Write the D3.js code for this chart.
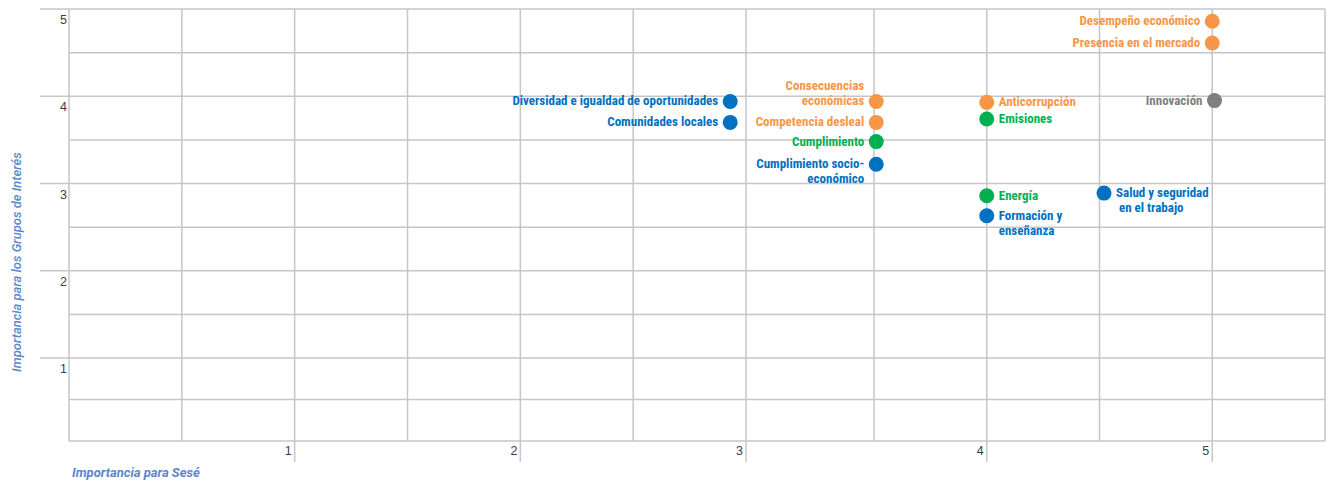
<!DOCTYPE html>
<html>
<head>
<meta charset="utf-8">
<script src="https://cdn.jsdelivr.net/npm/d3@7"></script>
<style>
  html, body { margin: 0; padding: 0; background: #fff; }
  svg { display: block; }
  .lbl { font-family: "Liberation Sans Narrow", "Roboto Condensed", "DejaVu Sans Condensed", sans-serif; font-weight: bold; font-size: 13px; white-space: pre; }
  .tick { font-family: "Liberation Sans", Arial, sans-serif; font-size: 12.5px; fill: #404040; }
  .title { font-family: Roboto, "Liberation Sans", sans-serif; font-style: italic; font-size: 13px; fill: #5b86cc; }
</style>
</head>
<body>
<svg id="chart" width="1330" height="484"></svg>
<script>
// ---- data ----
const labels = [
  "Desempeño económico",
  "Presencia en el mercado",
  "Innovación",
  "Anticorrupción",
  "Emisiones",
  "Energía",
  "Formación y\nenseñanza",
  "Salud y seguridad\n en el trabajo",
  "Consecuencias\neconómicas",
  "Competencia desleal",
  "Cumplimiento",
  "Cumplimiento socio-\neconómico",
  "Diversidad e igualdad de oportunidades",
  "Comunidades locales"
];
const xValues = [5.00, 5.00, 5.01, 4.00, 4.00, 4.00, 4.00, 4.52, 3.51, 3.51, 3.51, 3.51, 2.93, 2.93];
const yValues = [4.86, 4.61, 3.95, 3.93, 3.74, 2.86, 2.63, 2.89, 3.94, 3.70, 3.48, 3.22, 3.94, 3.70];
const groups  = ["eco", "eco", "other", "eco", "env", "env", "soc", "soc", "eco", "eco", "env", "soc", "soc", "soc"];
const labelSide = ["left", "left", "left", "right", "right", "right", "right", "right", "left", "left", "left", "left", "left", "left"];
const labelAnchorLine = ["first", "first", "first", "first", "first", "first", "first", "first", "last", "first", "first", "first", "first", "first"];
const xTicks = [1, 2, 3, 4, 5];
const yTicks = [1, 2, 3, 4, 5];
const xGrid = [0.5, 1, 1.5, 2, 2.5, 3, 3.5, 4, 4.5, 5];
const yGrid = [0.5, 1, 1.5, 2, 2.5, 3, 3.5, 4, 4.5];
const xTitle = "Importancia para Sesé";
const yTitle = "Importancia para los Grupos de Interés";

const colors = { eco: "#f79646", env: "#00b050", soc: "#0070c0", other: "#808080" };

// ---- layout ----
const svg = d3.select("#chart");
const pLeft = 69, pRight = 1325, pTop = 9, pBottom = 441;

const x = d3.scaleLinear().domain([0, 3, 3.5, 5.5]).range([pLeft, 746, 874, pRight]);
const y = d3.scaleLinear().domain([0, 1, 5]).range([pBottom, 358, pTop]);

const gridColor = "#c6c6c6";
const g = svg.append("g");

// grid lines
g.selectAll(".vg").data(xGrid).join("line")
  .attr("x1", d => x(d)).attr("x2", d => x(d))
  .attr("y1", pTop).attr("y2", d => xTicks.includes(d) ? 462 : pBottom)
  .attr("stroke", gridColor).attr("stroke-width", 1.5);
g.selectAll(".hg").data(yGrid).join("line")
  .attr("y1", d => y(d)).attr("y2", d => y(d))
  .attr("x1", d => yTicks.includes(d) ? 40 : pLeft).attr("x2", pRight)
  .attr("stroke", gridColor).attr("stroke-width", 1.5);

// frame
g.append("line").attr("x1", 40).attr("x2", pRight).attr("y1", y(5)).attr("y2", y(5)).attr("stroke", gridColor).attr("stroke-width", 1.5);
g.append("line").attr("x1", pLeft).attr("x2", pRight).attr("y1", pBottom).attr("y2", pBottom).attr("stroke", gridColor).attr("stroke-width", 1.5);
g.append("line").attr("x1", pLeft).attr("x2", pLeft).attr("y1", pTop).attr("y2", pBottom).attr("stroke", gridColor).attr("stroke-width", 1.5);
g.append("line").attr("x1", pRight).attr("x2", pRight).attr("y1", pTop).attr("y2", pBottom).attr("stroke", gridColor).attr("stroke-width", 1.5);

// tick labels
g.selectAll(".xt").data(xTicks).join("text").attr("class", "tick")
  .attr("x", d => x(d) - 3).attr("y", pBottom + 14).attr("text-anchor", "end").text(d => d);
g.selectAll(".yt").data(yTicks).join("text").attr("class", "tick")
  .attr("x", 67).attr("y", d => y(d) + 15).attr("text-anchor", "end").text(d => d);

// axis titles
svg.append("text").attr("class", "title").attr("font-weight", "bold")
  .attr("x", 72).attr("y", 477).text(xTitle);
svg.append("text").attr("class", "title").attr("font-weight", 500)
  .attr("transform", "translate(21,262) rotate(-90)").attr("text-anchor", "middle").text(yTitle);

// points
const pts = labels.map((l, i) => ({ label: l, x: xValues[i], y: yValues[i], g: groups[i], side: labelSide[i], anchor: labelAnchorLine[i] }));

const pg = svg.append("g");
pg.selectAll("circle").data(pts).join("circle")
  .attr("cx", d => x(d.x)).attr("cy", d => y(d.y)).attr("r", 7.5)
  .attr("fill", d => colors[d.g]);

const lineH = 15;
pts.forEach(d => {
  const lines = d.label.split("\n");
  const cx = x(d.x), cy = y(d.y);
  const startY = d.anchor === "last" ? cy - (lines.length - 1) * lineH : cy;
  const t = pg.append("text").attr("class", "lbl")
    .attr("fill", colors[d.g])
    .attr("text-anchor", d.side === "left" ? "end" : "start");
  lines.forEach((ln, k) => {
    t.append("tspan")
      .attr("x", d.side === "left" ? cx - 12 : cx + 12)
      .attr("y", startY + k * lineH + 4)
      .text(ln);
  });
});
</script>
</body>
</html>
